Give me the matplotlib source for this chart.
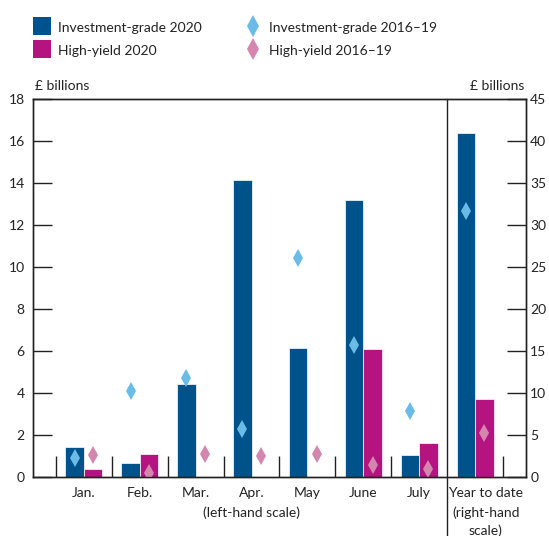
import matplotlib.pyplot as plt
import numpy as np
from matplotlib.lines import Line2D

plt.rcParams['font.family'] = ['Lato', 'DejaVu Sans']

# Monthly issuance, left-hand scale (£ billions)
months = ["Jan.", "Feb.", "Mar.", "Apr.", "May", "June", "July"]
ig_2020 = [1.45, 0.65, 4.42, 14.15, 6.15, 13.2, 1.05]
hy_2020 = [0.4, 1.12, 0.0, 0.0, 0.0, 6.1, 1.63]
ig_1619 = [0.92, 4.1, 4.7, 2.28, 10.43, 6.3, 3.13]
hy_1619 = [1.05, 0.2, 1.1, 1.0, 1.08, 0.55, 0.38]

# Year to date, right-hand scale (£ billions)
ytd_label = ["Year to date", "(right-hand", "scale)"]
ytd_ig_2020 = 41.0
ytd_hy_2020 = 9.25
ytd_ig_1619 = 31.7
ytd_hy_1619 = 5.3

c_ig = "#00528a"
c_hy = "#b5137f"
c_ig_d = "#6bbbe8"
c_hy_d = "#d486ae"
c_axis = "#222222"

fig = plt.figure(figsize=(5.49, 5.36), dpi=100)
ax = fig.add_axes([0.0601, 0.110, 0.898, 0.705])
ax2 = ax.twinx()

x = np.arange(len(months))
w = 0.33
ax.bar(x - w/2, ig_2020, w, color=c_ig, edgecolor="white", linewidth=0.5, zorder=2)
ax.bar(x + w/2, hy_2020, w, color=c_hy, edgecolor="white", linewidth=0.5, zorder=2)
ax.plot(x - w/2, ig_1619, "d", color=c_ig_d, markersize=9, markeredgewidth=0, zorder=3)
ax.plot(x + w/2, hy_1619, "d", color=c_hy_d, markersize=9, markeredgewidth=0, zorder=3)

xy = len(months)
ax2.bar(xy - w/2, ytd_ig_2020, w, color=c_ig, edgecolor="white", linewidth=0.5, zorder=2)
ax2.bar(xy + w/2, ytd_hy_2020, w, color=c_hy, edgecolor="white", linewidth=0.5, zorder=2)
ax2.plot(xy - w/2, ytd_ig_1619, "d", color=c_ig_d, markersize=9, markeredgewidth=0, zorder=3)
ax2.plot(xy + w/2, ytd_hy_1619, "d", color=c_hy_d, markersize=9, markeredgewidth=0, zorder=3)

ax.set_xlim(-0.91, 7.91)
ax.set_ylim(0, 18)
ax2.set_ylim(0, 45)
ax.set_yticks(np.arange(0, 19, 2))
ax2.set_yticks(np.arange(0, 46, 5))

ax.tick_params(axis="y", direction="in", length=14, width=1, colors=c_axis,
               labelsize=10, pad=6)
ax2.tick_params(axis="y", direction="in", length=14, width=1, colors=c_axis,
                labelsize=10, pad=3)
for a in (ax, ax2):
    for s in a.spines.values():
        s.set_color(c_axis)
        s.set_linewidth(1)

# category boundary ticks drawn upward from the bottom axis
ax.set_xticks(list(np.arange(-0.5, 6, 1)) + [7.5])
ax.set_xticklabels([])
ax.tick_params(axis="x", direction="in", length=15, width=1, colors=c_axis)

for i, m in enumerate(months):
    ax.text(i, -0.75, m, ha="center", va="center", fontsize=10, color=c_axis)
ax.text(3, -1.72, "(left-hand scale)", ha="center", va="center", fontsize=10, color=c_axis)
for line, yy in zip(ytd_label, [-0.75, -1.72, -2.55]):
    ax.text(xy + 0.19, yy, line, ha="center", va="center", fontsize=10, color=c_axis)

# separator between monthly and year-to-date panels
ax.plot([6.5, 6.5], [-2.8, 18], color=c_axis, linewidth=1, clip_on=False, zorder=4)

ax.text(-0.88, 18.35, "£ billions", ha="left", va="bottom", fontsize=10, color=c_axis)
ax.text(7.88, 18.35, "£ billions", ha="right", va="bottom", fontsize=10, color=c_axis)

handles = [
    Line2D([], [], marker="s", color=c_ig, linestyle="none", markersize=13,
           markeredgewidth=0, label="Investment-grade 2020"),
    Line2D([], [], marker="s", color=c_hy, linestyle="none", markersize=13,
           markeredgewidth=0, label="High-yield 2020"),
    Line2D([], [], marker="d", color=c_ig_d, linestyle="none", markersize=11,
           markeredgewidth=0, label="Investment-grade 2016–19"),
    Line2D([], [], marker="d", color=c_hy_d, linestyle="none", markersize=11,
           markeredgewidth=0, label="High-yield 2016–19"),
]
leg = fig.legend(handles=handles, ncol=2, loc="upper left", bbox_to_anchor=(0.038, 0.985),
                 frameon=False, fontsize=10, handlelength=1.3, handleheight=1.2,
                 handletextpad=0.5, columnspacing=3.0, labelspacing=0.6)
for t in leg.get_texts():
    t.set_color(c_axis)

fig.savefig("out.png", dpi=100)
